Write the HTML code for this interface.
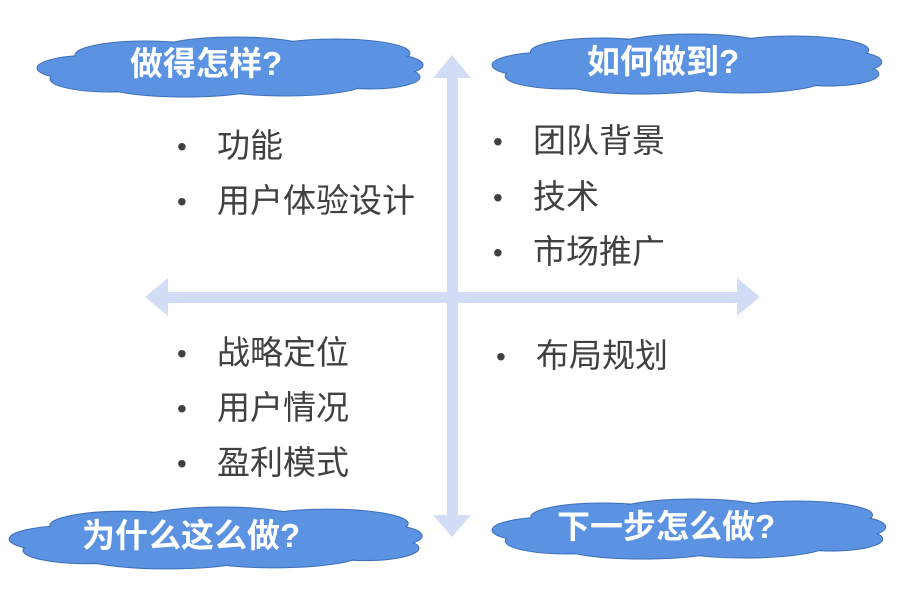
<!DOCTYPE html>
<html><head><meta charset="utf-8"><style>
body{margin:0;background:#fff}
svg text{font-family:"Liberation Sans","Noto Sans CJK SC",sans-serif}
</style></head><body>
<svg width="909" height="585" viewBox="0 0 909 585" xmlns="http://www.w3.org/2000/svg">
<defs>
<g id="cloud">
 <g fill="#5b93e2" stroke="#3f6fb8" stroke-width="1">
  <ellipse cx="60" cy="33" rx="58" ry="13"/>
  <ellipse cx="75" cy="44" rx="60" ry="13"/>
  <ellipse cx="110" cy="20" rx="70" ry="14"/>
  <ellipse cx="200" cy="16" rx="80" ry="14"/>
  <ellipse cx="300" cy="18" rx="75" ry="14"/>
  <ellipse cx="340" cy="30" rx="48" ry="12"/>
  <ellipse cx="335" cy="42" rx="50" ry="12"/>
  <ellipse cx="250" cy="48" rx="80" ry="13"/>
  <ellipse cx="150" cy="50" rx="80" ry="12"/>
 </g>
 <g fill="#5b93e2">
  <ellipse cx="60" cy="33" rx="57" ry="12"/>
  <ellipse cx="75" cy="44" rx="59" ry="12"/>
  <ellipse cx="110" cy="20" rx="69" ry="13"/>
  <ellipse cx="200" cy="16" rx="79" ry="13"/>
  <ellipse cx="300" cy="18" rx="74" ry="13"/>
  <ellipse cx="340" cy="30" rx="47" ry="11"/>
  <ellipse cx="335" cy="42" rx="49" ry="11"/>
  <ellipse cx="250" cy="48" rx="79" ry="12"/>
  <ellipse cx="150" cy="50" rx="79" ry="11"/>
  <rect x="60" y="20" width="280" height="30"/>
 </g>
</g>
</defs>
<g fill="#d2ddf5">
 <rect x="447" y="76" width="11" height="442"/>
 <polygon points="452,55 433,78 471,78"/>
 <polygon points="452,537 433,515 471,515"/>
 <rect x="166" y="292" width="574" height="11"/>
 <polygon points="145,297 168,278 168,316"/>
 <polygon points="760,297 737,278 737,316"/>
</g>
<g transform="translate(35,35)"><use href="#cloud"/></g>
<g transform="translate(490,32) scale(1.01,1.0)"><use href="#cloud"/></g>
<g transform="translate(7,505) scale(1.07,1.03)"><use href="#cloud"/></g>
<g transform="translate(490,497) scale(1.02,1.0)"><use href="#cloud"/></g>
<g fill="#fff" font-size="33" font-weight="bold">
 <text x="130" y="75">做得怎样?</text>
 <text x="587" y="73">如何做到?</text>
 <text x="82" y="547">为什么这么做?</text>
 <text x="557" y="538">下一步怎么做?</text>
</g>
<g fill="#404040" font-size="33">
 <text x="177" y="156" font-size="28">•</text><text x="217" y="157">功能</text>
 <text x="177" y="211" font-size="28">•</text><text x="217" y="212">用户体验设计</text>
 <text x="493" y="151" font-size="28">•</text><text x="533" y="152">团队背景</text>
 <text x="493" y="207" font-size="28">•</text><text x="533" y="208">技术</text>
 <text x="493" y="262" font-size="28">•</text><text x="533" y="263">市场推广</text>
 <text x="177" y="363" font-size="28">•</text><text x="217" y="364">战略定位</text>
 <text x="177" y="418" font-size="28">•</text><text x="217" y="419">用户情况</text>
 <text x="177" y="473" font-size="28">•</text><text x="217" y="474">盈利模式</text>
 <text x="496" y="366" font-size="28">•</text><text x="536" y="367">布局规划</text>
</g>
</svg>
</body></html>
